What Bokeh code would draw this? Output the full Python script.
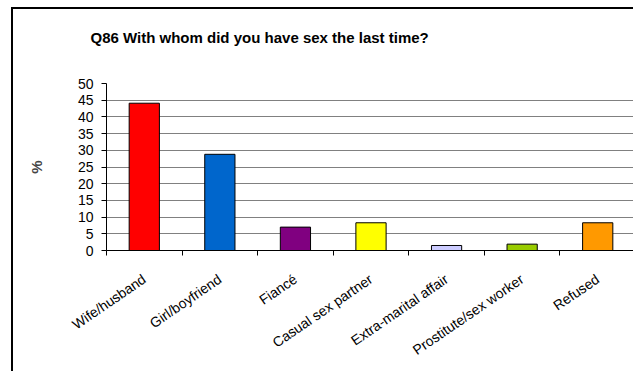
from bokeh.plotting import figure
from bokeh.models import Range1d, FixedTicker, Title, LinearAxis
from bokeh.embed import file_html
from bokeh.resources import INLINE
import numpy as np

categories = ["Wife/husband", "Girl/boyfriend", "Fiancé", "Casual sex partner",
              "Extra-marital affair", "Prostitute/sex worker", "Refused"]
values = [44.1, 28.8, 7.0, 8.3, 1.5, 1.9, 8.3]
colors = ["#FF0000", "#0066CC", "#800080", "#FFFF00", "#CCCCFF", "#99CC00", "#FF9900"]
y_ticks = [0, 5, 10, 15, 20, 25, 30, 35, 40, 45, 50]
title_text = "Q86 With whom did you have sex the last time?"

n = len(categories)
centers = np.arange(n) + 0.5

p = figure(width=622, height=364, output_backend="svg", toolbar_location=None, title=None,
           x_range=Range1d(0, n), y_range=Range1d(0, 50),
           min_border_left=93, min_border_top=74, min_border_bottom=123, min_border_right=0)
p.styles = {"margin-left": "11px", "margin-top": "7px",
            "border-left": "2px solid black", "border-top": "2px solid black"}

# spacer axis above the frame (a single white tick at the far right edge, empty label),
# so that the title sits higher above the plot area
spacer = LinearAxis(ticker=FixedTicker(ticks=[float(n)]), axis_line_color=None,
                    major_tick_line_color="white", minor_tick_line_color=None,
                    major_tick_out=30, major_tick_in=0, major_label_standoff=0,
                    major_label_overrides={float(n): ""}, major_label_text_font_size="1px")
p.add_layout(spacer, "above")

p.add_layout(Title(text=title_text, align="left", offset=-16, text_font="Liberation Sans",
                   text_font_size="15px", text_font_style="bold", text_color="black",
                   standoff=16), "above")

p.vbar(x=centers, top=values, width=0.4, fill_color=colors, line_color="black", line_width=1)

p.outline_line_color = None
p.background_fill_color = "white"
p.border_fill_color = "white"

p.xgrid.grid_line_color = None
p.ygrid.grid_line_color = "#808080"
p.ygrid.ticker = FixedTicker(ticks=y_ticks)

p.yaxis.ticker = FixedTicker(ticks=y_ticks)
p.yaxis.axis_line_color = "black"
p.yaxis.major_tick_line_color = "black"
p.yaxis.major_tick_out = 5
p.yaxis.major_tick_in = 0
p.yaxis.minor_tick_line_color = None
p.yaxis.major_label_standoff = 8
p.yaxis.major_label_text_font = "Liberation Sans"
p.yaxis.major_label_text_font_size = "14px"
p.yaxis.major_label_text_color = "black"
p.yaxis.axis_label = "%"
p.yaxis.axis_label_text_font = "Liberation Sans"
p.yaxis.axis_label_text_font_size = "15px"
p.yaxis.axis_label_text_font_style = "bold"
p.yaxis.axis_label_standoff = 30

xax = p.below[0]
xax.ticker = FixedTicker(ticks=list(centers), minor_ticks=list(range(n + 1)))
xax.major_label_overrides = {float(c): lab for c, lab in zip(centers, categories)}
xax.axis_line_color = "black"
xax.major_tick_line_color = None
xax.minor_tick_line_color = "black"
xax.minor_tick_out = 5
xax.minor_tick_in = 0
xax.major_label_orientation = 0.6
xax.major_label_standoff = 21
xax.major_label_text_font = "Liberation Sans"
xax.major_label_text_font_size = "14px"
xax.major_label_text_color = "black"

open("out.html", "w").write(file_html(p, INLINE))
